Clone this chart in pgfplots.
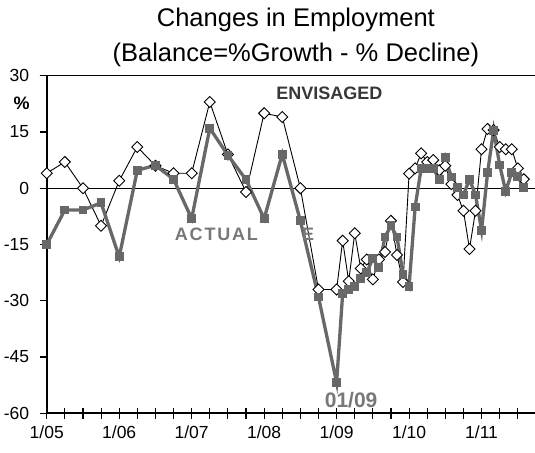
\documentclass[border=0pt]{standalone}
\usepackage{fontspec}
\setmainfont{Liberation Sans}
\usepackage{pgfplots}
\usepackage{pgfplotstable}
\pgfplotsset{compat=1.18}
\definecolor{actgray}{RGB}{104,104,104}
\definecolor{lblgray}{RGB}{120,120,120}
\definecolor{envgray}{RGB}{55,55,55}

\pgfplotstableread{
m v
0 4
3 7
6 0
9 -10
12 2
15 11
18 6
21 4
24 4
27 23
30 9
33 -1
36 20
39 19
42 0
45 -27
48 -27
49 -14
50 -24.8
51 -12
52 -21.4
53 -19
54 -24.3
55 -19
56 -17
57 -8.7
58 -17.8
59 -25
60 3.9
61 5.3
62 9.3
63 7
64 7.5
65 4.8
66 6
67 1.1
68 -1.8
69 -6
70 -16.2
71 -6
72 10.4
73 15.8
74 15.5
75 11
76 10.4
77 10.4
78 5.3
79 2.4
}\envisaged

\pgfplotstableread{
m v
0 -15
3 -5.8
6 -5.8
9 -3.9
12 -18.3
15 4.8
18 6.1
21 2.4
24 -8.1
27 16
30 8.8
33 2.3
36 -8.1
39 9.1
42 -8.7
45 -29
48 -51.8
49 -28.1
50 -26.9
51 -26.2
52 -24.1
53 -22.5
54 -18.7
55 -21.1
56 -13
57 -10
58 -13
59 -22.9
60 -26.1
61 -5
62 5.3
63 5.3
64 5.3
65 2.4
66 8.1
67 3
68 0.1
69 -1.8
70 2.4
71 -1.8
72 -11.2
73 4.2
74 15.5
75 6.2
76 -0.8
77 4.2
78 3.2
79 0.1
}\actual

\begin{document}
\begin{tikzpicture}
\begin{axis}[
  scale only axis,
  width=488pt, height=337.3pt,
  xmin=0, xmax=80.85, ymin=-60, ymax=30,
  axis lines*=left,
  axis line style={-, black, line width=1.6pt},
  xtick={0,12,24,36,48,60,72},
  xticklabels={1/05,1/06,1/07,1/08,1/09,1/10,1/11},
  minor xtick={3,6,9,15,18,21,27,30,33,39,42,45,51,54,57,63,66,69,75,78},
  xtick align=center,
  major tick length=11pt, minor tick length=11pt,
  xtick style={black, line width=1.1pt},
  minor x tick style={black, line width=1.1pt},
  ytick={-60,-45,-30,-15,0,15,30},
  yticklabels={-60,-45,-30,-15,0,15,30},
  ytick align=outside,
  ytick style={black, line width=1.1pt, /pgfplots/major tick length=7pt},
  extra y ticks={0,30},
  extra y tick labels={},
  extra y tick style={grid=major, major grid style={black, line width=1.1pt}, major tick length=0pt},
  tick label style={font=\fontsize{17.5}{19}\selectfont},
  xticklabel style={yshift=-4pt},
  yticklabel style={xshift=-3pt},
  title={Changes in Employment\\(Balance=\%Growth - \% Decline)},
  title style={font=\fontsize{25.5}{35}\selectfont, align=center, at={(0.5,1)}, anchor=south, inner sep=0pt, yshift=2.5pt, xshift=5pt},
  clip=false,
]
\addplot[black, line width=0.9pt, mark=square*, mark size=3.9pt,
  mark options={rotate=45, fill=white, draw=black, line width=0.9pt, solid}]
  table[x=m, y=v] {\envisaged};
\addplot[actgray, line width=3.3pt, mark=square*, mark size=3.9pt,
  mark options={fill=actgray, draw=actgray, line width=0pt}]
  table[x=m, y=v] {\actual};

\node[font=\fontsize{18}{20}\selectfont\bfseries, text=envgray] at (axis cs:46.8,25.4) {ENVISAGED};
\node[font=\fontsize{18}{20}\selectfont\bfseries, text=lblgray] at (axis cs:28.1,-12.3) {A\kern1.8pt C\kern1.8pt T\kern1.8pt U\kern1.8pt A\kern1.8pt L};
\node[font=\fontsize{18}{20}\selectfont\bfseries, text=lblgray] at (axis cs:43.3,-12.3) {E};
\node[font=\fontsize{21}{23}\selectfont\bfseries, text=lblgray] at (axis cs:50.4,-56.6) {01/09};
\node[font=\fontsize{18}{20}\selectfont\bfseries] at ([xshift=-25pt]axis cs:0,22.7) {\%};
\end{axis}
\pgfresetboundingbox
\path[use as bounding box] (-46.7pt,-39pt) rectangle (488pt,413pt);
\end{tikzpicture}
\end{document}
